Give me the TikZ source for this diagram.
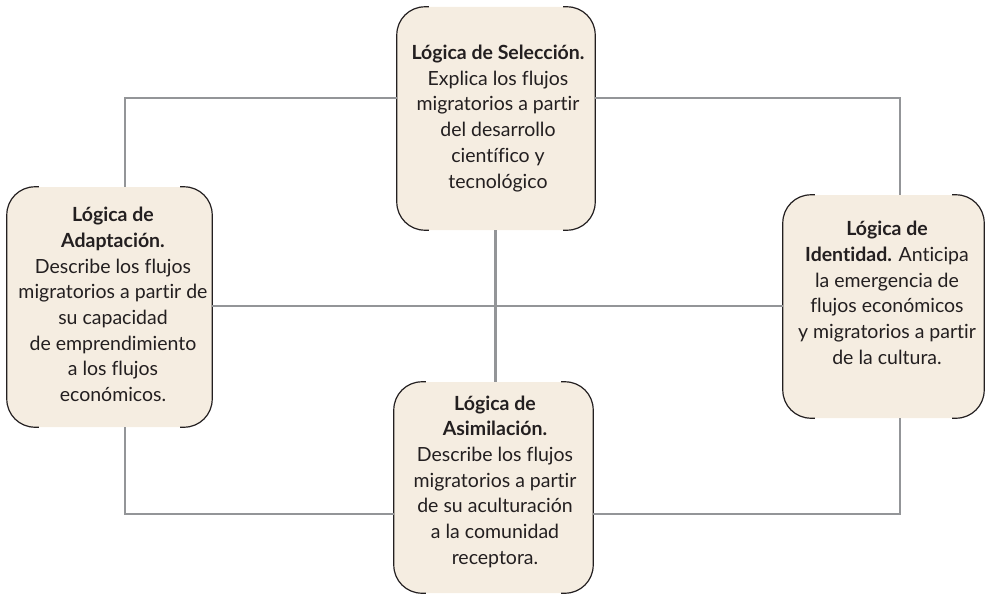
\documentclass[tikz,border=0pt]{standalone}
\usepackage{fontspec}
\setmainfont{Lato}[Ligatures=NoCommon]
\usetikzlibrary{calc}
\definecolor{boxfill}{HTML}{F5EDE1}
\definecolor{linegray}{HTML}{939598}
\definecolor{ink}{HTML}{231F20}
\tikzset{
  box/.style={fill=boxfill, rounded corners=28pt, inner sep=0pt, draw=none},
  rim/.style={draw=ink, line width=1.2pt, rounded corners=28pt},
  conn/.style={draw=linegray, line width=2.4pt},
  txt/.style={align=center, text=ink, font=\fontsize{19.5}{25.7}\selectfont, inner sep=0pt},
}
\begin{document}
\begin{tikzpicture}[x=1pt,y=-1pt]
\useasboundingbox (0,0) rectangle (988,594);
% boxes
\node[box, minimum width=198pt, minimum height=223pt] (sel) at (496,118.5) {};
\node[box, minimum width=205pt, minimum height=240pt] (ada) at (109.5,307) {};
\node[box, minimum width=201pt, minimum height=223pt] (ide) at (883.5,306.5) {};
\node[box, minimum width=199pt, minimum height=211pt] (asi) at (493.5,487.5) {};
% rims
\foreach \b in {sel,ada,ide,asi}{
  \draw[rim] ([xshift=32pt]\b.north west) -- (\b.north west) -- (\b.south west) -- ([xshift=32pt]\b.south west);
  \draw[rim] ([xshift=-32pt]\b.north east) -- (\b.north east) -- (\b.south east) -- ([xshift=-32pt]\b.south east);
}
% connectors
\coordinate (tl) at (125,97.7);
\coordinate (tr) at (900,97.7);
\coordinate (bl) at (125,514);
\coordinate (br) at (900,514);
\coordinate (mid) at (495.3,305.7);
\draw[conn] (tl |- ada.north) -- (tl) -- (tl -| sel.west);
\draw[conn] (sel.east |- tr) -- (tr) -- (tr |- ide.north);
\draw[conn] (bl |- ada.south) -- (bl) -- (bl -| asi.west);
\draw[conn] (asi.east |- br) -- (br) -- (br |- ide.south);
\draw[conn] (ada.east |- mid) -- (ide.west |- mid);
\draw[conn] (sel.south -| mid) -- (asi.north -| mid);
% texts
\node[txt] (tsel) at (498,118.3) {\textbf{Lógica de Selección.}\\Explica los flujos\\migratorios a partir\\del desarrollo\\científico y\\tecnológico};
\node[txt] (tada) at (113,304.5) {\textbf{Lógica de}\\\textbf{Adaptación.}\\Describe los flujos\\migratorios a partir de\\su capacidad\\de emprendimiento\\a los flujos\\económicos.};
\node[txt] (tide) at (887,292.7) {\textbf{Lógica de}\\\textbf{Identidad.} Anticipa\\la emergencia de\\flujos económicos\\y migratorios a partir\\de la cultura.};
\node[txt] (tasi) at (495,481.7) {\textbf{Lógica de}\\\textbf{Asimilación.}\\Describe los flujos\\migratorios a partir\\de su aculturación\\a la comunidad\\receptora.};
\end{tikzpicture}
\end{document}
